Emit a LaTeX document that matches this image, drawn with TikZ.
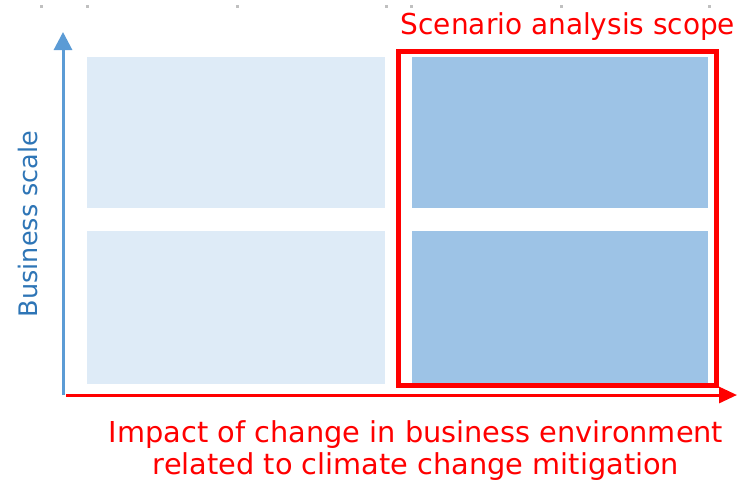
\documentclass[tikz,border=0pt]{standalone}
\usepackage{fontspec}
\setmainfont{DejaVu Sans}
\usepackage{tikz}
\usetikzlibrary{positioning,arrows.meta}

\definecolor{lightcell}{HTML}{DEEBF7}
\definecolor{darkcell}{HTML}{9DC3E6}
\definecolor{axisblue}{HTML}{5B9BD5}
\definecolor{labelblue}{HTML}{2E75B6}
\definecolor{handlegray}{HTML}{C0C0C0}

\begin{document}
\begin{tikzpicture}[x=1pt, y=-1pt,
lightnode/.style={rectangle, fill=lightcell, inner sep=0pt, minimum width=298pt, minimum height=151pt},
darknode/.style={rectangle, fill=darkcell, inner sep=0pt, minimum width=296pt, minimum height=151pt},
scopenode/.style={rectangle, draw=red, line width=5pt, inner sep=0pt, minimum width=318pt, minimum height=334pt},
redtext/.style={text=red, font=\fontsize{28.8}{32}\selectfont, inner sep=0pt, anchor=base},
]
\useasboundingbox (0,0) rectangle (743,480);

%Handles
\foreach \hx in {41,87,237,386,411,561,709}
  \fill[handlegray] (\hx-1.5,4.5) rectangle (\hx+1.5,7.5);

%Nodes
\node[lightnode, anchor=north west] (TL) at (87,57) {};
\node[lightnode, minimum height=153pt] (BL) [below=22pt of TL] {};
\node[darknode] (TR) [right=26pt of TL] {};
\node[darknode, minimum height=153pt] (BR) [below=22pt of TR] {};
\node[scopenode] (Scope) at (557,218) {};
\node[redtext, xscale=0.97] (ScopeTitle) at (568,34) {Scenario analysis scope};
\node[redtext] (XlabelA) at (416,442) {Impact of change in business environment};
\node[redtext] (XlabelB) at (416,474) {related to climate change mitigation};
\node[text=labelblue, font=\fontsize{25.5}{28}\selectfont, inner sep=0pt, rotate=90] (Ylabel) at (28,224) {Business scale};

%Axes
\coordinate (Yfoot) at (63,395);
\coordinate (Ytip) at (63,32);
\coordinate (Xfoot) at (66,395);
\coordinate (Xtip) at (737,395);
\draw[axisblue, line width=3pt, -{Triangle[width=18pt,length=18pt]}] (Yfoot) -- (Ytip);
\draw[red, line width=3pt, -{Triangle[width=16pt,length=18pt]}] (Xfoot) -- (Xtip);
\end{tikzpicture}
\end{document}
